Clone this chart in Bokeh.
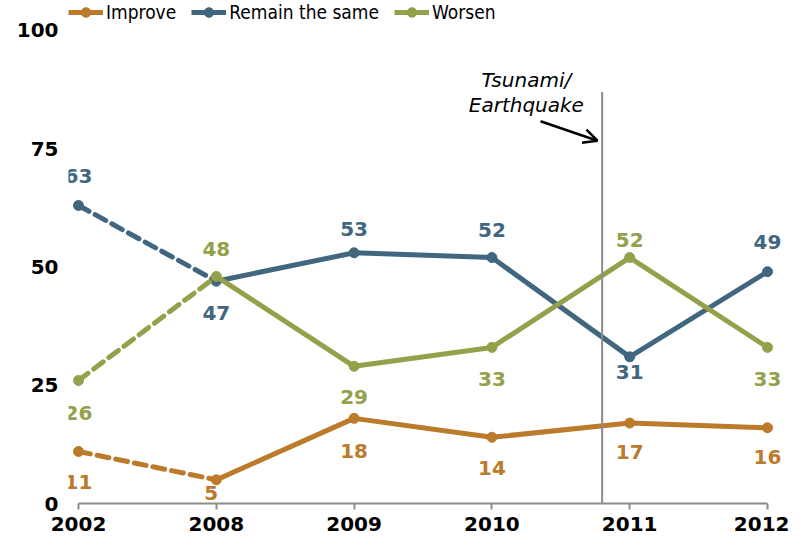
from bokeh.plotting import figure
from bokeh.models import (ColumnDataSource, FixedTicker, Legend, LegendItem,
                          Arrow, OpenHead, Range1d)
from bokeh.core.properties import value
from bokeh.embed import file_html
from bokeh.resources import INLINE

# ---- data ----
years = ["2002", "2008", "2009", "2010", "2011", "2012"]
improve = [11, 5, 18, 14, 17, 16]
remain = [63, 47, 53, 52, 31, 49]
worsen = [26, 48, 29, 33, 52, 33]
y_ticks = [0, 25, 50, 75, 100]
series_names = ["Improve", "Remain the same", "Worsen"]
event_text = ["Tsunami/", "Earthquake"]

# ---- styling ----
colors = ["#BC7A2B", "#41667F", "#95A04A"]
# screen offsets (px) of each value label from its point (+ = down)
label_dy = [
    [31, 13, 33, 31, 29, 29],
    [-30, 32, -24, -28, 15, -30],
    [32, -27, 31, 32, -18, 32],
]
label_dx = [
    [0, -5, 0, 0, 0, 0],
    [0, 0, 0, 0, 0, 0],
    [0, 0, 0, 0, 0, 0],
]
event_x = 3.8
event_top = 87
BOLD = value("DejaVu Sans")

idx = list(range(len(years)))

p = figure(width=789, height=541, output_backend="svg", toolbar_location=None,
           x_range=Range1d(-0.0726, 5.1597), y_range=Range1d(0, 106.34),
           min_border_left=68, min_border_right=0, min_border_top=0,
           min_border_bottom=38)
p.outline_line_color = None
p.xgrid.visible = False
p.ygrid.visible = False
p.background_fill_color = "white"

legend_items = []
for name, vals, col, dys, dxs in zip(series_names, [improve, remain, worsen],
                                     colors, label_dy, label_dx):
    dashed = p.line(idx[:2], vals[:2], line_color=col, line_width=5,
                    line_dash="12 7", line_cap="round")
    solid = p.line(idx[1:], vals[1:], line_color=col, line_width=5)
    pts = p.scatter(idx, vals, size=10, fill_color=col, line_color=col)
    src = ColumnDataSource(dict(x=idx, y=vals, t=[str(v) for v in vals],
                                dy=dys, dx=dxs))
    p.text(x="x", y="y", text="t", source=src, x_offset="dx", y_offset="dy",
           text_color=col, text_font=BOLD, text_font_style="bold",
           text_font_size="20px", text_align="center", text_baseline="middle")
    legend_items.append(LegendItem(label=name, renderers=[solid, pts]))

# event marker
p.segment(x0=[event_x], y0=[0], x1=[event_x], y1=[event_top],
          line_color="#8c8c8c", line_width=2)
p.text(x=[3.25, 3.25], y=[89.6, 84.2], text=event_text,
       text_font=value("DejaVu Sans"), text_font_style="italic",
       text_font_size="20px", text_align="center", text_baseline="middle",
       text_color="black")
p.add_layout(Arrow(end=OpenHead(size=14, line_width=2.5, line_color="black"),
                   x_start=3.353, y_start=80.8, x_end=3.766, y_end=76.7,
                   line_width=2.5, line_color="black"))

# axes
p.xaxis.ticker = FixedTicker(ticks=idx)
p.xaxis.major_label_overrides = {i: y for i, y in enumerate(years)}
p.xaxis.bounds = (0, len(years) - 1)
p.xaxis.axis_line_color = "#8c8c8c"
p.xaxis.axis_line_width = 2
p.xaxis.major_tick_line_color = "#8c8c8c"
p.xaxis.major_tick_line_width = 2
p.xaxis.major_tick_out = 6
p.xaxis.major_tick_in = 0
p.xaxis.minor_tick_line_color = None
p.xaxis.major_label_standoff = 7
p.xaxis.major_label_text_font = "DejaVu Sans"
p.xaxis.major_label_text_font_style = "bold"
p.xaxis.major_label_text_font_size = "20px"
p.xaxis.major_label_text_color = "black"

p.yaxis.ticker = FixedTicker(ticks=y_ticks)
p.yaxis.axis_line_color = None
p.yaxis.major_tick_line_color = None
p.yaxis.major_tick_out = 0
p.yaxis.major_tick_in = 0
p.yaxis.minor_tick_line_color = None
p.yaxis.major_label_standoff = 10
p.yaxis.major_label_text_font = "DejaVu Sans"
p.yaxis.major_label_text_font_style = "bold"
p.yaxis.major_label_text_font_size = "20px"
p.yaxis.major_label_text_color = "black"

legend = Legend(items=legend_items, orientation="horizontal",
                location="top_left", margin=0, padding=0, spacing=15,
                glyph_width=35, glyph_height=24, label_standoff=3,
                label_height=24,
                label_text_font="DejaVu Sans Condensed",
                label_text_font_size="19px", label_text_color="black",
                background_fill_alpha=0, border_line_color=None)
p.add_layout(legend)

open("out.html", "w").write(file_html(p, INLINE))
